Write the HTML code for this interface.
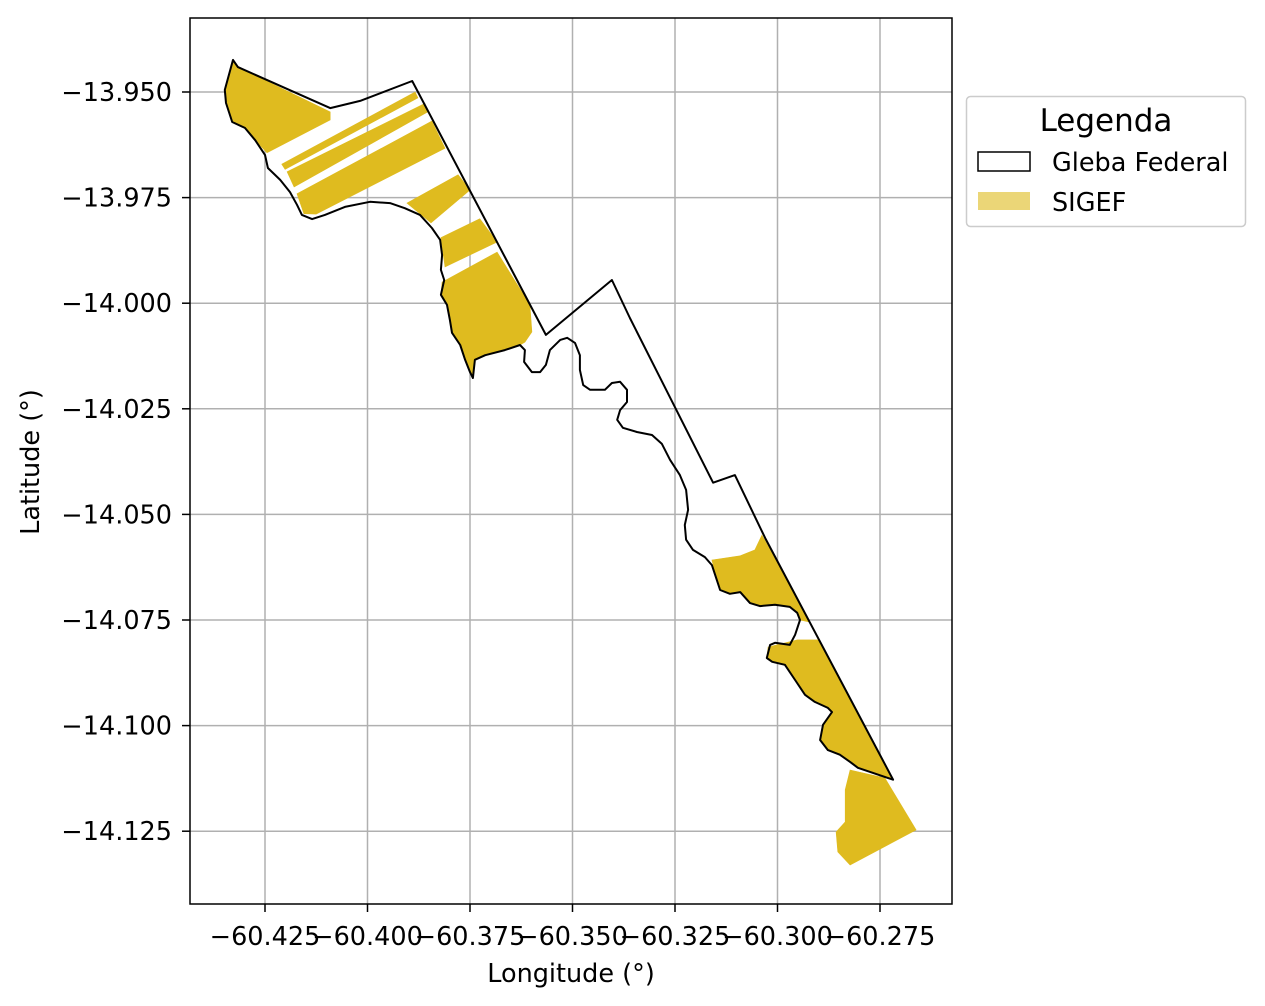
<!DOCTYPE html>
<html><head><meta charset="utf-8">
<style>
body{margin:0;background:#fff;}
svg{display:block;font-family:"DejaVu Sans","Liberation Sans",sans-serif;}
</style></head>
<body>
<svg id="chart" width="1265" height="1006" viewBox="0 0 1265 1006" xmlns="http://www.w3.org/2000/svg">
<rect width="1265" height="1006" fill="#fff"/>
<g id="grid"></g>
<g id="sigef"></g>
<g id="gleba"></g>
<rect x="190" y="18" width="762" height="886" fill="none" stroke="#000" stroke-width="1.5"/>
<g id="ticks" font-size="25.5" fill="#000"></g>
<text x="571" y="982" font-size="25.5" text-anchor="middle">Longitude (°)</text>
<text transform="translate(39,462) rotate(-90)" font-size="25.5" text-anchor="middle">Latitude (°)</text>
<g>
<rect x="966.5" y="96.5" width="279" height="130" rx="4" fill="#fff" stroke="#ccc" stroke-width="1.5"/>
<text x="1106" y="131" font-size="31" text-anchor="middle">Legenda</text>
<g>
<rect x="978" y="152" width="52" height="19" fill="#fff" stroke="#000" stroke-width="1.5"/>
<text x="1052" y="171" font-size="25.5">Gleba Federal</text>
</g>
<g>
<rect x="978" y="192" width="52" height="18" fill="#ebd677"/>
<text x="1052" y="211" font-size="25.5">SIGEF</text>
</g>
</g>
</svg>
<script>
const xTicks=[-60.425,-60.400,-60.375,-60.350,-60.325,-60.300,-60.275];
const yTicks=[-13.950,-13.975,-14.000,-14.025,-14.050,-14.075,-14.100,-14.125];
const xTickLabels=["\u221260.425","\u221260.400","\u221260.375","\u221260.350","\u221260.325","\u221260.300","\u221260.275"];
const yTickLabels=["\u221213.950","\u221213.975","\u221214.000","\u221214.025","\u221214.050","\u221214.075","\u221214.100","\u221214.125"];
const glebaFederal=[[-60.4328,-13.9424],[-60.4348,-13.9495],[-60.4345,-13.9526],[-60.4330,-13.9571],[-60.4299,-13.9585],[-60.4274,-13.9614],[-60.4250,-13.9649],[-60.4243,-13.9680],[-60.4213,-13.9708],[-60.4189,-13.9737],[-60.4172,-13.9767],[-60.4160,-13.9791],[-60.4135,-13.9801],[-60.4104,-13.9791],[-60.4055,-13.9772],[-60.3994,-13.9760],[-60.3945,-13.9763],[-60.3909,-13.9775],[-60.3872,-13.9791],[-60.3843,-13.9822],[-60.3823,-13.9850],[-60.3818,-13.9886],[-60.3821,-13.9921],[-60.3813,-13.9945],[-60.3821,-13.9980],[-60.3806,-14.0004],[-60.3799,-14.0040],[-60.3794,-14.0070],[-60.3774,-14.0099],[-60.3762,-14.0134],[-60.3750,-14.0163],[-60.3743,-14.0177],[-60.3738,-14.0134],[-60.3713,-14.0123],[-60.3665,-14.0111],[-60.3628,-14.0099],[-60.3616,-14.0111],[-60.3618,-14.0139],[-60.3599,-14.0163],[-60.3579,-14.0163],[-60.3565,-14.0146],[-60.3555,-14.0111],[-60.3530,-14.0087],[-60.3513,-14.0082],[-60.3494,-14.0094],[-60.3482,-14.0123],[-60.3482,-14.0158],[-60.3474,-14.0194],[-60.3457,-14.0205],[-60.3421,-14.0205],[-60.3404,-14.0189],[-60.3384,-14.0186],[-60.3367,-14.0205],[-60.3367,-14.0234],[-60.3384,-14.0253],[-60.3391,-14.0276],[-60.3377,-14.0295],[-60.3343,-14.0305],[-60.3306,-14.0312],[-60.3282,-14.0333],[-60.3262,-14.0371],[-60.3238,-14.0407],[-60.3223,-14.0442],[-60.3218,-14.0489],[-60.3226,-14.0525],[-60.3223,-14.0560],[-60.3206,-14.0584],[-60.3177,-14.0601],[-60.3160,-14.0620],[-60.3148,-14.0655],[-60.3140,-14.0679],[-60.3116,-14.0688],[-60.3091,-14.0684],[-60.3067,-14.0710],[-60.3043,-14.0717],[-60.3006,-14.0714],[-60.2970,-14.0719],[-60.2952,-14.0733],[-60.2945,-14.0750],[-60.2957,-14.0785],[-60.2970,-14.0809],[-60.3006,-14.0804],[-60.3018,-14.0809],[-60.3026,-14.0840],[-60.3013,-14.0849],[-60.2982,-14.0856],[-60.2957,-14.0892],[-60.2933,-14.0927],[-60.2909,-14.0944],[-60.2877,-14.0958],[-60.2867,-14.0968],[-60.2889,-14.0998],[-60.2896,-14.1034],[-60.2877,-14.1058],[-60.2848,-14.1069],[-60.2823,-14.1086],[-60.2804,-14.1100],[-60.2718,-14.1128],[-60.3030,-14.0556],[-60.3104,-14.0407],[-60.3157,-14.0425],[-60.3360,-14.0035],[-60.3404,-13.9945],[-60.3565,-14.0075],[-60.3891,-13.9474],[-60.4018,-13.9521],[-60.4091,-13.9538],[-60.4316,-13.9441]];
const sigefParcels=[
[[-60.4328,-13.9424],[-60.4316,-13.9441],[-60.4091,-13.9547],[-60.4091,-13.9566],[-60.4245,-13.9644],[-60.4274,-13.9614],[-60.4299,-13.9585],[-60.4330,-13.9571],[-60.4345,-13.9526],[-60.4348,-13.9495]],
[[-60.4209,-13.9671],[-60.3884,-13.9500],[-60.3877,-13.9514],[-60.4201,-13.9683]],
[[-60.4196,-13.9689],[-60.3860,-13.9527],[-60.3853,-13.9547],[-60.4179,-13.9725]],
[[-60.4172,-13.9741],[-60.3843,-13.9569],[-60.3811,-13.9633],[-60.4125,-13.9789],[-60.4155,-13.9788]],
[[-60.3904,-13.9763],[-60.3779,-13.9696],[-60.3750,-13.9732],[-60.3845,-13.9810]],
[[-60.3821,-13.9845],[-60.3726,-13.9800],[-60.3684,-13.9855],[-60.3811,-13.9914]],
[[-60.3818,-13.9950],[-60.3684,-13.9879],[-60.3604,-14.0004],[-60.3599,-14.0068],[-60.3616,-14.0092],[-60.3628,-14.0099],[-60.3665,-14.0111],[-60.3713,-14.0123],[-60.3738,-14.0134],[-60.3743,-14.0177],[-60.3750,-14.0163],[-60.3762,-14.0134],[-60.3774,-14.0099],[-60.3794,-14.0070],[-60.3799,-14.0040],[-60.3806,-14.0004],[-60.3821,-13.9980]],
[[-60.3160,-14.0608],[-60.3091,-14.0598],[-60.3055,-14.0584],[-60.3038,-14.0549],[-60.2921,-14.0755],[-60.2945,-14.0750],[-60.2952,-14.0733],[-60.2970,-14.0719],[-60.3006,-14.0714],[-60.3043,-14.0717],[-60.3067,-14.0710],[-60.3091,-14.0684],[-60.3116,-14.0688],[-60.3140,-14.0679],[-60.3148,-14.0655]],
[[-60.3023,-14.0814],[-60.2952,-14.0797],[-60.2899,-14.0797],[-60.2718,-14.1128],[-60.2804,-14.1100],[-60.2823,-14.1086],[-60.2848,-14.1069],[-60.2877,-14.1058],[-60.2896,-14.1034],[-60.2889,-14.0998],[-60.2867,-14.0968],[-60.2877,-14.0958],[-60.2909,-14.0944],[-60.2933,-14.0927],[-60.2957,-14.0892],[-60.2982,-14.0856],[-60.3013,-14.0849],[-60.3026,-14.0840]],
[[-60.2823,-14.1105],[-60.2738,-14.1124],[-60.2662,-14.1247],[-60.2823,-14.1330],[-60.2853,-14.1299],[-60.2857,-14.1252],[-60.2835,-14.1228],[-60.2835,-14.1152]]
];
const NS="http://www.w3.org/2000/svg";
function sx(lon){return 265+(lon+60.425)*4100;}
function sy(lat){return 92-(lat+13.95)*4224;}
function mk(tag,attrs,parent){const e=document.createElementNS(NS,tag);for(const k in attrs)e.setAttribute(k,attrs[k]);parent.appendChild(e);return e;}
const grid=document.getElementById('grid'),ticks=document.getElementById('ticks');
xTicks.forEach((v,i)=>{const x=sx(v);
 const g=mk('line',{x1:x,x2:x,y1:18,y2:904,stroke:'#b0b0b0','stroke-width':1.5},grid);
 
 
 const t=mk('line',{x1:x,x2:x,y1:904,y2:912,stroke:'#000','stroke-width':1.5},ticks);
 
 
 const l=mk('text',{x:x,y:945,'text-anchor':'middle'},ticks);l.textContent=xTickLabels[i];
 
 
});
yTicks.forEach((v,i)=>{const y=sy(v);
 const g=mk('line',{x1:190,x2:952,y1:y,y2:y,stroke:'#b0b0b0','stroke-width':1.5},grid);
 
 
 const t=mk('line',{x1:182,x2:190,y1:y,y2:y,stroke:'#000','stroke-width':1.5},ticks);
 
 
 const l=mk('text',{x:172,y:y+9,'text-anchor':'end'},ticks);l.textContent=yTickLabels[i];
 
 
});
const pts=a=>a.map(p=>sx(p[0]).toFixed(1)+','+sy(p[1]).toFixed(1)).join(' ');
const sg=document.getElementById('sigef');
sigefParcels.forEach(p=>{const e=mk('polygon',{points:pts(p),fill:'#dfbb1f',stroke:'#dfbb1f','stroke-width':0.6},sg);
 
 
});
const gp=mk('polygon',{points:pts(glebaFederal),fill:'none',stroke:'#000','stroke-width':2,'stroke-linejoin':'round'},document.getElementById('gleba'));


</script>
</body></html>
